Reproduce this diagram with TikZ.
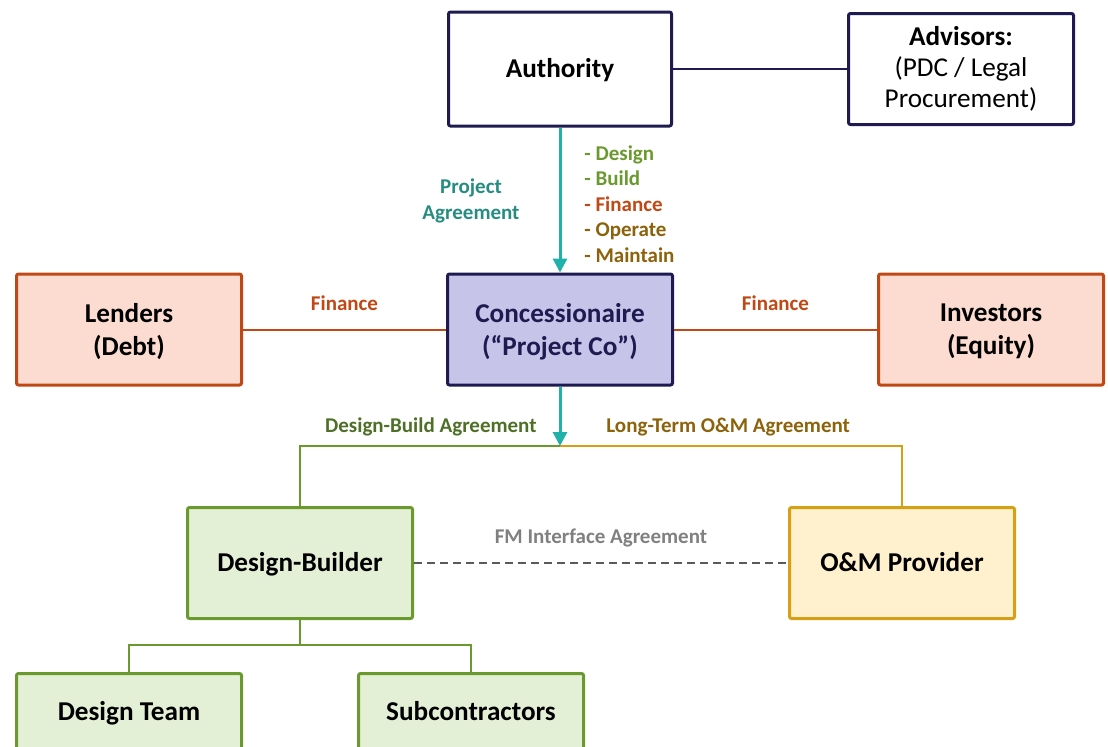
\documentclass[tikz,border=0pt]{standalone}
\usepackage{fontspec}
\setmainfont{Carlito}
\usetikzlibrary{arrows.meta}
\definecolor{navy}{RGB}{31,27,80}
\definecolor{lavender}{RGB}{199,196,234}
\definecolor{rust}{RGB}{192,72,20}
\definecolor{peach}{RGB}{252,220,208}
\definecolor{leaf}{RGB}{106,154,46}
\definecolor{pale}{RGB}{228,240,214}
\definecolor{gold}{RGB}{214,160,20}
\definecolor{cream}{RGB}{255,240,206}
\definecolor{tealline}{RGB}{32,178,170}
\definecolor{tealtext}{RGB}{38,140,130}
\definecolor{darkleaf}{RGB}{78,112,38}
\definecolor{brown}{RGB}{140,98,10}
\definecolor{fmgray}{RGB}{90,90,90}
\definecolor{fmtext}{RGB}{128,128,128}
\tikzset{
  box/.style={draw, line width=1.5pt, rounded corners=1pt, minimum width=112.5pt,
    minimum height=55.5pt, align=center, font=\fontsize{13.6}{16.5}\selectfont\bfseries},
  oneline/.style={text height=11.8pt, text depth=3pt},
  twoline/.style={text depth=0pt},
  lbl/.style={inner sep=0pt, align=center, font=\fontsize{10.5}{12.75}\selectfont\bfseries},
  link/.style={line width=1pt},
  flow/.style={line width=1.5pt, draw=tealline, -{Triangle[width=7pt,length=7pt]}},
}

\begin{document}
\begin{tikzpicture}[x=0.5pt, y=-0.5pt]
  \path[use as bounding box] (0,0) rectangle (1108,746);
  \clip (0,0) rectangle (1108,746);
  \node[box, oneline, draw=navy, minimum width=111.5pt, minimum height=57pt] (auth) at (560,69) {Authority};
  \node[box, draw=navy, font=\fontsize{13.6}{15.5}\selectfont] (adv) at (961,69)
    {\textbf{Advisors:}\\(PDC / Legal\\Procurement)};
  \node[box, twoline, draw=navy, fill=lavender, text=navy] (conc) at (560,329.5) {Concessionaire\\(“Project Co”)};
  \node[box, twoline, draw=rust, fill=peach] (lend) at (129,329.5) {Lenders\\(Debt)};
  \node[box, twoline, draw=rust, fill=peach] (inv) at (991,329.5) {Investors\\(Equity)};
  \node[box, oneline, draw=leaf, fill=pale] (db) at (300,563) {Design-Builder};
  \node[box, oneline, draw=gold, fill=cream] (om) at (902,563) {O\&M Provider};
  \node[box, oneline, draw=leaf, fill=pale, minimum height=38.5pt] (team) at (129,712) {Design Team};
  \node[box, oneline, draw=leaf, fill=pale, minimum height=38.5pt] (sub) at (471,712) {Subcontractors};
  \coordinate (bus) at (560,446);
  \coordinate (split) at (300,645);

  \draw[link, navy] (auth) -- (adv);
  \draw[flow] (auth) -- (conc);
  \node[lbl, text=tealtext] (pa) at (471,201) {Project\\Agreement};
  \node[lbl, anchor=west, align=left] (scope) at (584,204)
    {\textcolor{leaf}{- Design}\\\textcolor{leaf}{- Build}\\\textcolor{rust}{- Finance}\\
     \textcolor{brown}{- Operate}\\\textcolor{brown}{- Maintain}};
  \draw[link, rust] (lend) -- node[lbl, midway, yshift=13pt] {Finance} (conc);
  \draw[link, rust] (inv) -- node[lbl, midway, yshift=13pt] {Finance} (conc);

  \draw[flow] (conc) -- (bus);
  \draw[link, leaf] (bus) -| (db);
  \draw[link, gold] (bus) -| (om);
  \node[lbl, text=darkleaf, anchor=east] (dba) at ([xshift=-11.5pt, yshift=9.5pt]bus) {Design-Build Agreement};
  \node[lbl, text=brown, anchor=west] (oma) at ([xshift=23pt, yshift=9.5pt]bus) {Long-Term O\&M Agreement};
  \draw[link, fmgray, dash pattern=on 4pt off 2.5pt] (db) --
    node[lbl, midway, yshift=12.5pt, text=fmtext] {FM Interface Agreement} (om);

  \draw[link, leaf] (db) -- (split);
  \draw[link, leaf] (split) -| (team);
  \draw[link, leaf] (split) -| (sub);
\end{tikzpicture}
\end{document}
